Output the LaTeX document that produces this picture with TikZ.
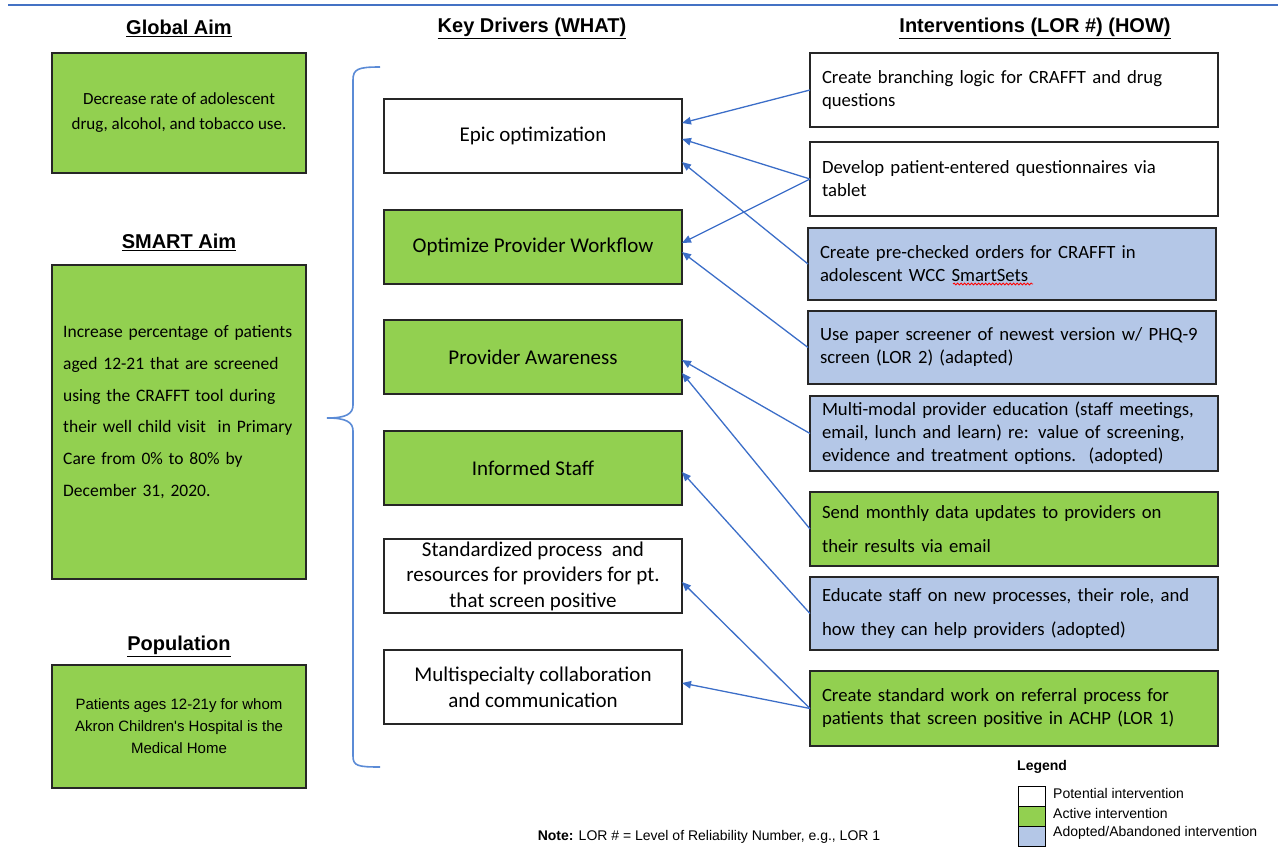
\documentclass[tikz,border=0pt]{standalone}
\usepackage{fontspec}
\usetikzlibrary{arrows.meta,decorations.pathmorphing}
\setmainfont{Carlito}
\newfontfamily\arialf{Liberation Sans}
\definecolor{actgreen}{HTML}{92D050}
\definecolor{adoptblue}{HTML}{B4C7E7}
\definecolor{arrblue}{HTML}{3C6EC8}
\definecolor{bracecol}{HTML}{5B8BD6}
\definecolor{rulecol}{HTML}{4472C4}
\newcommand\drvfont{\fontsize{21}{25.6}\selectfont}
\newcommand\ivfont{\fontsize{18.7}{23}\selectfont}
\newcommand\ivwide{\fontsize{18.7}{34}\selectfont}
\newcommand\headfont{\arialf\bfseries\fontsize{20}{24}\selectfont}
\tikzset{
  base/.style={draw=black!85, line width=1.4pt, inner sep=0pt, outer sep=0pt},
  drv/.style={base, minimum width=298pt, minimum height=74pt, align=center, font=\drvfont},
  intv/.style={base, minimum width=408pt, minimum height=74pt, text width=384pt, align=left, font=\ivfont},
  aimbox/.style={base, fill=actgreen, minimum width=254pt},
  heading/.style={font=\headfont, inner sep=0pt},
  arr/.style={draw=arrblue, line width=1.3pt, -{Triangle[length=9pt,width=7.5pt]}},
  legbox/.style={draw=black, line width=1pt, minimum width=27pt, minimum height=20pt, inner sep=0pt},
  legtxt/.style={font=\arialf\fontsize{14}{16}\selectfont, anchor=west, inner sep=0pt},
}
\begin{document}
\begin{tikzpicture}[x=1pt,y=-1pt]
\useasboundingbox (0,0) rectangle (1280,853);
% top rule
\coordinate (rl) at (8,5);
\coordinate (rr) at (1278,5);
\draw[rulecol, line width=2pt] (rl) -- (rr);

% headings
\node[heading] (gah) at (179,28) {\underline{Global Aim}};
\node[heading] (smh) at (179,242) {\underline{SMART Aim}};
\node[heading] (poh) at (179,646) {\underline{Population}};
\node[heading] (kdh) at (532,28) {\underline{Key Drivers (WHAT)}};
\node[heading] (ivh) at (1035,28) {\underline{Interventions (LOR \#) (HOW)}};

% left column
\node[aimbox, minimum height=120pt, align=center, font=\fontsize{17}{25}\selectfont] (ga) at (179,113)
  {Decrease rate of adolescent\\drug, alcohol, and tobacco use.};
\node[aimbox, minimum height=314pt] (sm) at (179,422) {};
\node[anchor=west, inner sep=0pt, text width=240pt, align=left, font=\fontsize{17.5}{31.8}\selectfont] (smt) at (63,412)
  {Increase percentage of patients\\aged 12-21 that are screened\\using the CRAFFT tool during\\their well child visit\ \ in Primary\\Care from 0\% to 80\% by\\December 31, 2020.};
\node[aimbox, minimum height=123pt, align=center, font=\arialf\fontsize{15}{22}\selectfont] (po) at (179,726.5)
  {Patients ages 12-21y for whom\\Akron Children's Hospital is the\\Medical Home};

% brace
\draw[bracecol, line width=1.6pt] (380,67) .. controls (358,67) and (353,69) .. (353,80)
  -- (353,405) .. controls (353,414) and (346,418) .. (327,418)
  .. controls (346,418) and (353,422) .. (353,431)
  -- (353,756) .. controls (353,766) and (358,767) .. (380,767);

% key drivers
\node[drv, fill=white] (d1) at (533,136) {Epic optimization};
\node[drv, fill=actgreen] (d2) at (533,247) {Optimize Provider Workflow};
\node[drv, fill=actgreen] (d3) at (533,357) {Provider Awareness};
\node[drv, fill=actgreen] (d4) at (533,468) {Informed Staff};
\node[drv, fill=white] (d5) at (533,576) {Standardized process\ \ and\\resources for providers for pt.\\that screen positive};
\node[drv, fill=white] (d6) at (533,687) {Multispecialty collaboration\\and communication};

% interventions
\node[intv, fill=white] (i1) at (1014,90) {Create branching logic for CRAFFT and drug\\questions};
\node[intv, fill=white] (i2) at (1014,179) {Develop patient-entered questionnaires via\\tablet};
\node[intv, fill=adoptblue, minimum height=72pt] (i3) at (1012,264) {Create pre-checked orders for CRAFFT in\\adolescent WCC SmartSets};
\node[intv, fill=adoptblue, minimum height=73pt] (i4) at (1012,347.5) {Use paper screener of newest version w/ PHQ-9\\screen (LOR 2) (adapted)};
\node[intv, fill=adoptblue, minimum height=75pt] (i5) at (1014,433.5) {Multi-modal provider education (staff meetings,\\email, lunch and learn) re: value of screening,\\evidence and treatment options.\ \ (adopted)};
\node[intv, fill=actgreen, font=\ivwide] (i6) at (1014,529) {Send monthly data updates to providers on\\their results via email};
\node[intv, fill=adoptblue, minimum height=73pt, font=\ivwide] (i7) at (1014,613.5) {Educate staff on new processes, their role, and\\how they can help providers (adopted)};
\node[intv, fill=actgreen, minimum height=75pt] (i8) at (1014,708.5) {Create standard work on referral process for\\patients that screen positive in ACHP (LOR 1)};

% spell-check squiggle under "SmartSets"
\draw[red, line width=0.8pt, decorate, decoration={snake, amplitude=1pt, segment length=3.5pt}] (953,284) -- (1033,284);

% arrows
\draw[arr] (i1.west) -- ([yshift=13pt]d1.east);
\draw[arr] (i2.west) -- ([yshift=-3pt]d1.east);
\draw[arr] (i2.west) -- ([yshift=4pt]d2.east);
\draw[arr] (i3.west) -- ([yshift=-26pt]d1.east);
\draw[arr] (i4.west) -- ([yshift=-5pt]d2.east);
\draw[arr] (i5.west) -- ([yshift=-3pt]d3.east);
\draw[arr] (i6.west) -- ([yshift=-16pt]d3.east);
\draw[arr] (i7.west) -- ([yshift=-4pt]d4.east);
\draw[arr] (i8.west) -- ([yshift=-6pt]d5.east);
\draw[arr] (i8.west) -- ([yshift=4pt]d6.east);

% legend
\node[anchor=west, inner sep=0pt, font=\arialf\bfseries\fontsize{14}{16}\selectfont] (lg) at (1017,767) {Legend};
\node[legbox, fill=white] (l1) at (1031.5,796) {};
\node[legbox, fill=actgreen] (l2) at (1031.5,816) {};
\node[legbox, fill=adoptblue] (l3) at (1031.5,836) {};
\node[legtxt] (lt1) at (1053,793) {Potential intervention};
\node[legtxt] (lt2) at (1053,813) {Active intervention};
\node[legtxt] (lt3) at (1053,833) {Adopted/Abandoned intervention};

% note
\node[inner sep=0pt, font=\arialf\fontsize{14}{16}\selectfont] (note) at (709,837) {\textbf{Note:} LOR \# = Level of Reliability Number, e.g., LOR 1};
\end{tikzpicture}
\end{document}
